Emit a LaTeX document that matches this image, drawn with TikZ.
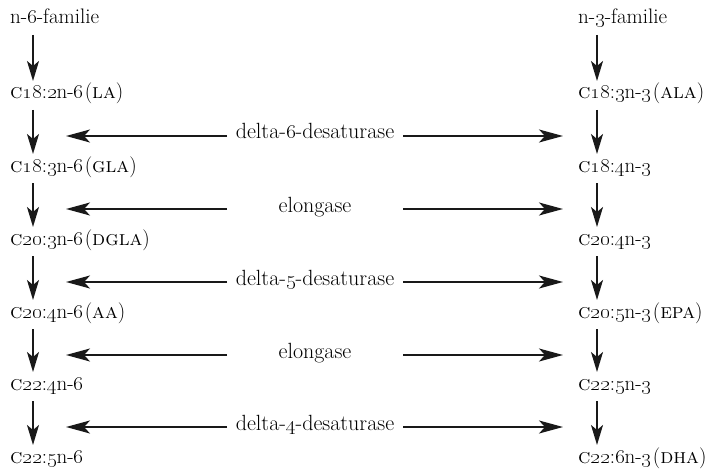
\documentclass[tikz,border=0pt]{standalone}
\usetikzlibrary{arrows.meta,calc}
\newcommand\osn[1]{\oldstylenums{#1}}
\begin{document}
\begin{tikzpicture}[x=1pt,y=-1pt,
  every node/.style={inner sep=0pt,font=\fontsize{22}{26}\selectfont,text=black},
  acid/.style={anchor=base west,font=\fontsize{21}{25}\selectfont},
  enzyme/.style={anchor=base},
  varr/.style={line width=1.8pt,draw=black!90,-{Stealth[length=20pt,width=12pt,inset=5pt]}},
  harr/.style={line width=1.8pt,draw=black!90,-{Stealth[length=24pt,width=13pt,inset=6pt]}}]
\useasboundingbox (0,0) rectangle (709,476);

% columns
\coordinate (xl) at (33,0);
\coordinate (xr) at (597,0);
% horizontal arrow ends
\coordinate (lsrc) at (227,0);
\coordinate (ltip) at (66,0);
\coordinate (rsrc) at (403,0);
\coordinate (rtip) at (563,0);

% n-6 series
\node[acid] (a0) at (10,24) {n-\osn{6}-familie};
\node[acid] (a1) at (10,99) {\textsc{c}\osn{18}:\osn{2}n-\osn{6}\kern1.5pt(\textsc{la})};
\node[acid] (a2) at (10,172) {\textsc{c}\osn{18}:\osn{3}n-\osn{6}\kern1.5pt(\textsc{gla})};
\node[acid] (a3) at (10,245) {\textsc{c}\osn{20}:\osn{3}n-\osn{6}\kern1.5pt(\textsc{dgla})};
\node[acid] (a4) at (10,318) {\textsc{c}\osn{20}:\osn{4}n-\osn{6}\kern1.5pt(\textsc{aa})};
\node[acid] (a5) at (10,390) {\textsc{c}\osn{22}:\osn{4}n-\osn{6}};
\node[acid] (a6) at (10,463) {\textsc{c}\osn{22}:\osn{5}n-\osn{6}};

% n-3 series
\node[acid] (b0) at (578,24) {n-\osn{3}-familie};
\node[acid] (b1) at (578,99) {\textsc{c}\osn{18}:\osn{3}n-\osn{3}\kern1.5pt(\textsc{ala})};
\node[acid] (b2) at (578,172) {\textsc{c}\osn{18}:\osn{4}n-\osn{3}};
\node[acid] (b3) at (578,245) {\textsc{c}\osn{20}:\osn{4}n-\osn{3}};
\node[acid] (b4) at (578,318) {\textsc{c}\osn{20}:\osn{5}n-\osn{3}\kern1.5pt(\textsc{epa})};
\node[acid] (b5) at (578,390) {\textsc{c}\osn{22}:\osn{5}n-\osn{3}};
\node[acid] (b6) at (578,463) {\textsc{c}\osn{22}:\osn{6}n-\osn{3}\kern1.5pt(\textsc{dha})};

% vertical steps
\foreach \i/\j in {0/1,1/2,2/3,3/4,4/5,5/6}{
  \draw[varr] ($(a\i.base -| xl)+(0,11)$) -- ($(a\j.base -| xl)+(0,-18)$);
  \draw[varr] ($(b\i.base -| xr)+(0,11)$) -- ($(b\j.base -| xr)+(0,-18)$);
}

% enzymes
\node[enzyme] (e1) at (315,139) {delta-\osn{6}-desaturase};
\node[enzyme] (e2) at (315,212) {elongase};
\node[enzyme] (e3) at (315,285) {delta-\osn{5}-desaturase};
\node[enzyme] (e4) at (315,358) {elongase};
\node[enzyme] (e5) at (315,430) {delta-\osn{4}-desaturase};

\foreach \e in {e1,e2,e3,e4,e5}{
  \draw[harr] ($(\e.base -| lsrc)+(0,-3)$) -- ($(\e.base -| ltip)+(0,-3)$);
  \draw[harr] ($(\e.base -| rsrc)+(0,-3)$) -- ($(\e.base -| rtip)+(0,-3)$);
}
\end{tikzpicture}
\end{document}
